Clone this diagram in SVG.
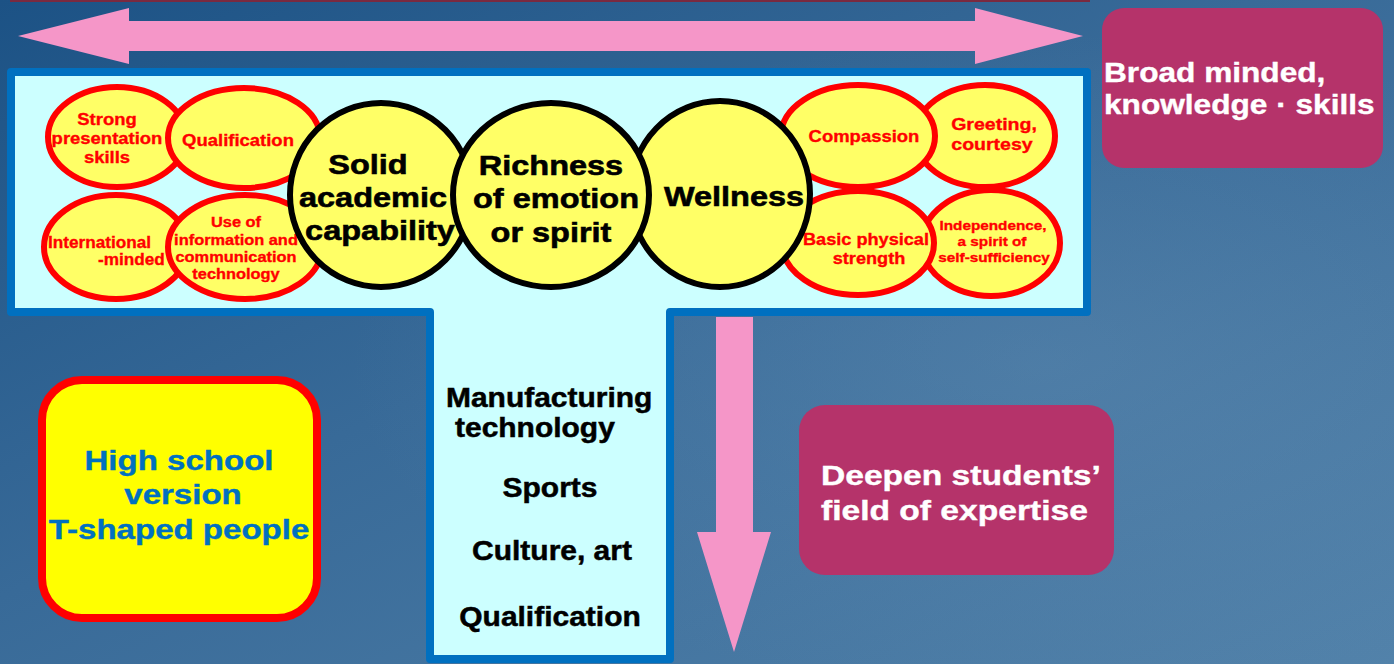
<svg xmlns="http://www.w3.org/2000/svg" width="1394" height="664" viewBox="0 0 1394 664">
<defs>
<linearGradient id="bg" x1="0" y1="0" x2="1" y2="1">
<stop offset="0" stop-color="#1C5285"/>
<stop offset="0.45" stop-color="#386A98"/>
<stop offset="1" stop-color="#5282AA"/>
</linearGradient>
<radialGradient id="hl" cx="0.75" cy="0.55" r="0.5">
<stop offset="0" stop-color="#6A94B8" stop-opacity="0.3"/>
<stop offset="1" stop-color="#6A94B8" stop-opacity="0"/>
</radialGradient>
<style>
.red{fill:#FFFF66;stroke:#FF0000;stroke-width:6}
.blk{fill:#FFFF66;stroke:#000;stroke-width:6}
.t{font-family:"Liberation Sans",Arial,sans-serif;font-weight:bold}
.rt{fill:#FF0000;stroke:#FF0000;stroke-width:0.35;font-size:16.5px;text-anchor:middle}
.bt{fill:#000;stroke:#000;stroke-width:0.6;font-size:28px;text-anchor:middle}
.st{fill:#000;stroke:#000;stroke-width:0.5;font-size:27px}
.wt{fill:#FFFFFF;stroke:#FFFFFF;stroke-width:0.4;font-size:28px}
.blt{fill:#0070C0;stroke:#0070C0;stroke-width:0.4;font-size:28px;text-anchor:middle}
.pink{fill:#F596C8}
.mag{fill:#B5336A}
</style>
</defs>
<rect width="1394" height="664" fill="url(#bg)"/>
<rect width="1394" height="664" fill="url(#hl)"/>
<rect x="10" y="0" width="1080" height="2" fill="#7A2A40"/>

<g id="connectors">
<polygon class="pink" points="18,36 129,8 129,21 975,21 975,8 1083,36 975,64 975,51 129,51 129,64"/>
</g>

<g id="t-frame">
<path d="M11,72 H1087 V312 H670 V659 H430 V312 H11 Z" fill="#CCFFFF" stroke="#0070C0" stroke-width="8" stroke-linejoin="round"/>
</g>

<g id="connectors-down">
<polygon class="pink" points="716,317 753,317 753,532 771,532 734,652 697,532 716,532"/>
</g>

<g id="strong-presentation">
<ellipse class="red" cx="117" cy="137" rx="69" ry="50"/>
<text class="t rt" transform="translate(107,125) scale(1.12,1)">Strong</text>
<text class="t rt" transform="translate(107,144) scale(1.12,1)">presentation</text>
<text class="t rt" transform="translate(107,163) scale(1.12,1)">skills</text>
</g>
<g id="qualification-left">
<ellipse class="red" cx="244" cy="138" rx="76" ry="50"/>
<text class="t rt" transform="translate(238,146) scale(1.12,1)">Qualification</text>
</g>
<g id="international">
<ellipse class="red" cx="116" cy="247" rx="72" ry="52"/>
<text class="t rt" style="text-anchor:start" transform="translate(48,248) scale(1.04,1)">International</text>
<text class="t rt" style="text-anchor:start" transform="translate(98,265) scale(1.04,1)">-minded</text>
</g>
<g id="ict">
<ellipse class="red" cx="245" cy="247" rx="77" ry="52"/>
<text class="t rt" style="font-size:14.5px" transform="translate(236,227) scale(1.13,1)">Use of</text>
<text class="t rt" style="font-size:14.5px" transform="translate(236,244.5) scale(1.13,1)">information and</text>
<text class="t rt" style="font-size:14.5px" transform="translate(236,262) scale(1.13,1)">communication</text>
<text class="t rt" style="font-size:14.5px" transform="translate(236,279) scale(1.13,1)">technology</text>
</g>
<g id="greeting">
<ellipse class="red" cx="985" cy="136" rx="70" ry="51"/>
<text class="t rt" style="font-size:17px" transform="translate(994,130) scale(1.15,1)">Greeting,</text>
<text class="t rt" style="font-size:17px" transform="translate(992,150) scale(1.15,1)">courtesy</text>
</g>
<g id="compassion">
<ellipse class="red" cx="858" cy="136" rx="77" ry="51"/>
<text class="t rt" transform="translate(864,142) scale(1.12,1)">Compassion</text>
</g>
<g id="independence">
<ellipse class="red" cx="991" cy="243" rx="69" ry="53"/>
<text class="t rt" style="font-size:13.3px" transform="translate(993,230) scale(1.15,1)">Independence,</text>
<text class="t rt" style="font-size:13.3px" transform="translate(992,246) scale(1.15,1)">a spirit of</text>
<text class="t rt" style="font-size:13.3px" transform="translate(994,262) scale(1.15,1)">self-sufficiency</text>
</g>
<g id="basic-physical">
<ellipse class="red" cx="858" cy="243" rx="76" ry="52"/>
<text class="t rt" transform="translate(866,245) scale(1.1,1)">Basic physical</text>
<text class="t rt" transform="translate(869,264) scale(1.1,1)">strength</text>
</g>
<g id="solid-academic">
<ellipse class="blk" cx="381" cy="195" rx="91" ry="92"/>
<text class="t bt" transform="translate(368,174) scale(1.16,1)">Solid</text>
<text class="t bt" transform="translate(373,207) scale(1.16,1)">academic</text>
<text class="t bt" transform="translate(380,240) scale(1.16,1)">capability</text>
</g>
<g id="wellness">
<ellipse class="blk" cx="720" cy="194" rx="90" ry="93"/>
<text class="t bt" transform="translate(734,206) scale(1.16,1)">Wellness</text>
</g>
<g id="richness">
<ellipse class="blk" cx="551" cy="195" rx="98" ry="92"/>
<text class="t bt" transform="translate(551,175) scale(1.16,1)">Richness</text>
<text class="t bt" transform="translate(556,208) scale(1.16,1)">of emotion</text>
<text class="t bt" transform="translate(551,242) scale(1.16,1)">or spirit</text>
</g>

<g id="stem-labels">
<text class="t st" transform="translate(446,407) scale(1.11,1)">Manufacturing</text>
<text class="t st" transform="translate(455,437) scale(1.11,1)">technology</text>
<text class="t st" style="text-anchor:middle" transform="translate(550,497) scale(1.11,1)">Sports</text>
<text class="t st" style="text-anchor:middle" transform="translate(552,560) scale(1.11,1)">Culture, art</text>
<text class="t st" style="text-anchor:middle" transform="translate(550,626) scale(1.11,1)">Qualification</text>
</g>

<g id="broad-minded">
<rect class="mag" x="1102" y="8" width="281" height="160" rx="22"/>
<text class="t wt" transform="translate(1104,82) scale(1.13,1)">Broad minded,</text>
<text class="t wt" transform="translate(1104,114) scale(1.13,1)">knowledge · skills</text>
</g>

<g id="deepen-expertise">
<rect class="mag" x="799" y="405" width="315" height="170" rx="26"/>
<text class="t wt" transform="translate(821,485) scale(1.2,1)">Deepen students’</text>
<text class="t wt" transform="translate(821,520) scale(1.2,1)">field of expertise</text>
</g>

<g id="high-school">
<rect x="42" y="380" width="275" height="238" rx="40" fill="#FFFF00" stroke="#FF0000" stroke-width="8"/>
<text class="t blt" transform="translate(179,470) scale(1.18,1)">High school</text>
<text class="t blt" transform="translate(183,504) scale(1.18,1)">version</text>
<text class="t blt" transform="translate(179,539) scale(1.18,1)">T-shaped people</text>
</g>
</svg>
